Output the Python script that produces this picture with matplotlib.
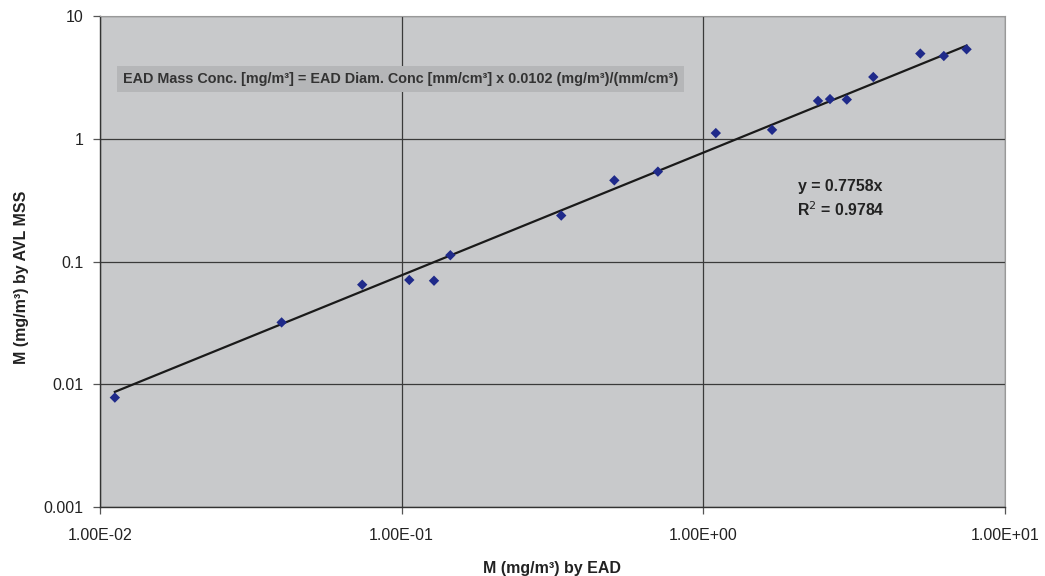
import numpy as np
import matplotlib
matplotlib.use('Agg')
import matplotlib.pyplot as plt
from matplotlib.ticker import FixedLocator, FixedFormatter, NullLocator

plt.rcParams['font.family'] = ['Liberation Sans', 'DejaVu Sans']

# EAD vs AVL MSS mass concentration (mg/m3)
ead_mass = [0.0112, 0.040, 0.074, 0.106, 0.128, 0.145, 0.338, 0.507, 0.707,
            1.10, 1.69, 2.40, 2.63, 2.99, 3.66, 5.24, 6.27, 7.46]
mss_mass = [0.0078, 0.032, 0.065, 0.071, 0.070, 0.113, 0.238, 0.461, 0.543,
            1.12, 1.19, 2.05, 2.12, 2.10, 3.21, 4.98, 4.76, 5.40]
slope = 0.7758
r_squared = 0.9784

x_ticks = [1e-2, 1e-1, 1e0, 1e1]
x_tick_labels = ['1.00E-02', '1.00E-01', '1.00E+00', '1.00E+01']
y_ticks = [1e-3, 1e-2, 1e-1, 1e0, 1e1]
y_tick_labels = ['0.001', '0.01', '0.1', '1', '10']

fig = plt.figure(figsize=(10.45, 5.76), dpi=100)
ax = fig.add_axes([0.0957, 0.1198, 0.866, 0.8516])
ax.set_facecolor('#c8c9cb')

ax.set_xscale('log')
ax.set_yscale('log')
ax.set_xlim(1e-2, 1e1)
ax.set_ylim(1e-3, 1e1)

# trendline through origin
xs = np.array([min(ead_mass), max(ead_mass)])
ax.plot(xs, slope * xs, color='#1a1a1a', lw=1.6, zorder=3)

ax.scatter(ead_mass, mss_mass, marker='D', s=28, color='#1f2a8a',
           edgecolors='none', zorder=4)

ax.xaxis.set_major_locator(FixedLocator(x_ticks))
ax.xaxis.set_major_formatter(FixedFormatter(x_tick_labels))
ax.yaxis.set_major_locator(FixedLocator(y_ticks))
ax.yaxis.set_major_formatter(FixedFormatter(y_tick_labels))
ax.xaxis.set_minor_locator(NullLocator())
ax.yaxis.set_minor_locator(NullLocator())

ax.grid(True, color='#3a3a3a', lw=0.9)
ax.set_axisbelow(True)
ax.tick_params(axis='both', direction='out', length=5, width=0.9,
               color='#555555', labelsize=11.5, labelcolor='#222222')
ax.tick_params(axis='y', pad=7)
ax.tick_params(axis='x', pad=10)

for side in ['top', 'right']:
    ax.spines[side].set_color('#999999')
for side in ['left', 'bottom']:
    ax.spines[side].set_color('#333333')
    ax.spines[side].set_linewidth(1.0)

ax.set_xlabel('M (mg/m³) by EAD', fontsize=11.5, fontweight='bold',
              color='#222222', labelpad=13)
ax.set_ylabel('M (mg/m³) by AVL MSS', fontsize=11.5, fontweight='bold',
              color='#222222')
ax.yaxis.set_label_coords(-0.0785, 0.469)

ax.text(0.025, 0.872,
        'EAD Mass Conc. [mg/m³] = EAD Diam. Conc [mm/cm³] x 0.0102 (mg/m³)/(mm/cm³)',
        transform=ax.transAxes, fontsize=10.4, fontweight='bold', color='#333333',
        va='center', ha='left',
        bbox=dict(boxstyle='square,pad=0.4', facecolor='#b5b6b8', edgecolor='none'))

ax.text(0.771, 0.654, f'y = {slope}x', transform=ax.transAxes, fontsize=11.4,
        fontweight='bold', color='#222222', va='center', ha='left')
ax.text(0.770, 0.6055, f'R$^2$ = {r_squared}', transform=ax.transAxes, fontsize=11.4,
        fontweight='bold', color='#222222', va='center', ha='left')

fig.savefig('out.png', dpi=100)
